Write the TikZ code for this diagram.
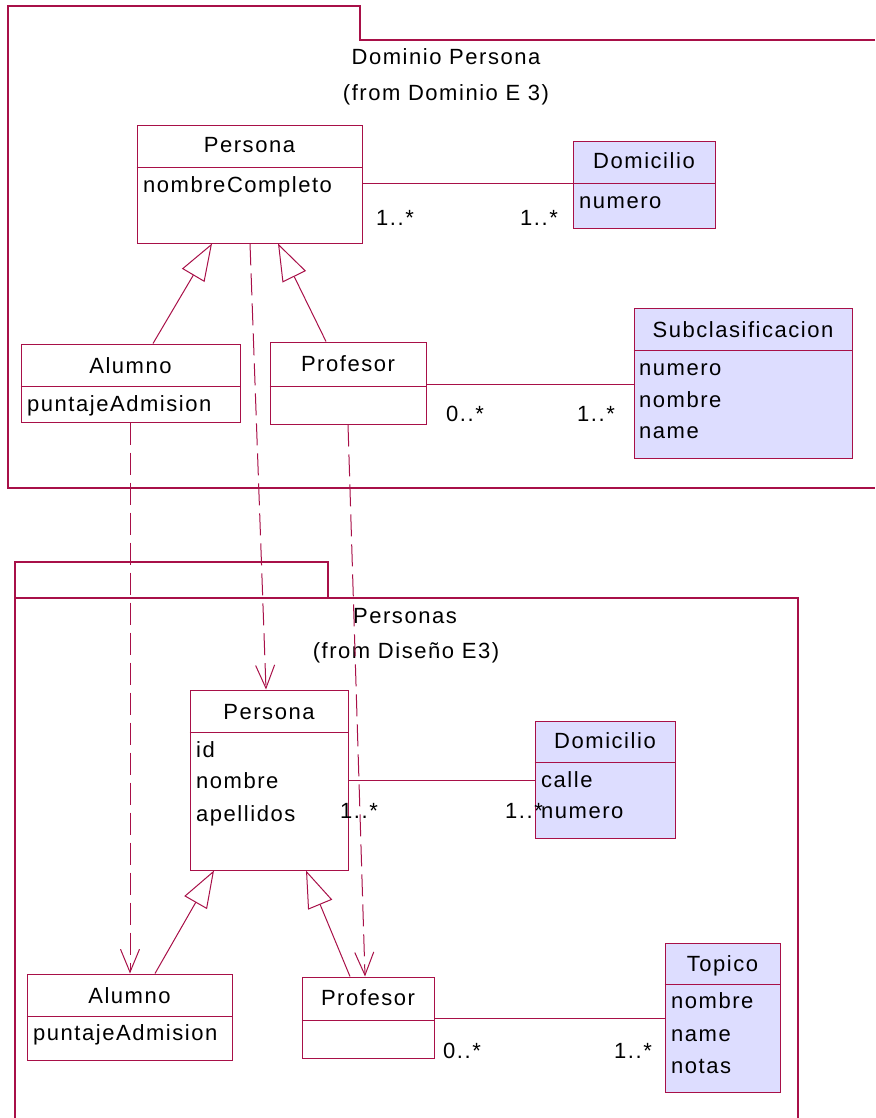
\documentclass[tikz,border=0pt]{standalone}
\usepackage{fontspec}
\setmainfont{Liberation Sans}[LetterSpace=7]
\usetikzlibrary{arrows.meta}
\definecolor{rose}{RGB}{168,16,72}
\definecolor{lav}{RGB}{221,221,255}
\tikzset{
  ln/.style={draw=rose, line width=1pt},
  pkg/.style={draw=rose, line width=1.2pt},
  cls/.style={rectangle, draw=rose, line width=1pt, fill=white, inner sep=0pt},
  clsb/.style={cls, fill=lav},
  ttl/.style={inner sep=0pt, anchor=base, text=black},
  attr/.style={inner sep=0pt, anchor=base west, text=black},
  gen/.style={ln, -{Triangle[open, length=37pt, width=26pt]}},
  dep/.style={ln, dash pattern=on 22pt off 8pt, -{Straight Barb[length=23pt, width=19pt]}},
}
\begin{document}
\begin{tikzpicture}[x=1pt, y=-1pt, font=\fontsize{22}{26}\selectfont]
\useasboundingbox (0,0) rectangle (875,1118);

% package: Dominio Persona
\draw[pkg] (875,40) -- (360,40) -- (360,6) -- (8,6) -- (8,488) -- (875,488);
\node[ttl] (pkgA) at (446,65) {Dominio Persona};
\node[ttl] (pkgAf) at (446,101) {(from Dominio E 3)};

% package: Personas
\draw[pkg] (15,1118) -- (15,562) -- (328,562) -- (328,598);
\draw[pkg] (15,598) -- (798,598) -- (798,1118);
\node[ttl] (pkgB) at (405,623) {Personas};
\node[ttl] (pkgBf) at (406,658) {(from Diseño E3)};

% class boxes, domain package
\node[cls, minimum width=225pt, minimum height=117pt] (p1) at (249.5,184.5) {};
\node[clsb, minimum width=142pt, minimum height=86pt] (d1) at (644,185) {};
\node[cls, minimum width=219pt, minimum height=78pt] (a1) at (130.5,383) {};
\node[cls, minimum width=156pt, minimum height=82pt] (f1) at (348,383) {};
\node[clsb, minimum width=218pt, minimum height=150pt] (s1) at (743,383) {};

% class boxes, design package
\node[cls, minimum width=158pt, minimum height=180pt] (p2) at (269,780) {};
\node[clsb, minimum width=140pt, minimum height=117pt] (d2) at (605,779.5) {};
\node[cls, minimum width=205pt, minimum height=86pt] (a2) at (129.5,1017) {};
\node[cls, minimum width=132pt, minimum height=81pt] (f2) at (368,1017.5) {};
\node[clsb, minimum width=115pt, minimum height=149pt] (t2) at (722.5,1017.5) {};

% compartment dividers
\draw[ln] (p1.west |- 0,168) -- (p1.east |- 0,168);
\draw[ln] (d1.west |- 0,184) -- (d1.east |- 0,184);
\draw[ln] (a1.west |- 0,386) -- (a1.east |- 0,386);
\draw[ln] (f1.west |- 0,386) -- (f1.east |- 0,386);
\draw[ln] (s1.west |- 0,350) -- (s1.east |- 0,350);
\draw[ln] (p2.west |- 0,732) -- (p2.east |- 0,732);
\draw[ln] (d2.west |- 0,762) -- (d2.east |- 0,762);
\draw[ln] (a2.west |- 0,1016) -- (a2.east |- 0,1016);
\draw[ln] (f2.west |- 0,1020) -- (f2.east |- 0,1020);
\draw[ln] (t2.west |- 0,984) -- (t2.east |- 0,984);

% class names
\node[ttl] (p1n) at (249.5,153) {Persona};
\node[ttl] (d1n) at (644,168) {Domicilio};
\node[ttl] (a1n) at (130.5,373) {Alumno};
\node[ttl] (f1n) at (348,371) {Profesor};
\node[ttl] (s1n) at (743,337) {Subclasificacion};
\node[ttl] (p2n) at (269,719) {Persona};
\node[ttl] (d2n) at (605,748) {Domicilio};
\node[ttl] (a2n) at (129.5,1003) {Alumno};
\node[ttl] (f2n) at (368,1005) {Profesor};
\node[ttl] (t2n) at (722.5,971) {Topico};

% attributes
\node[attr] (p1a) at (143,193) {nombreCompleto};
\node[attr] (d1a) at (579,208) {numero};
\node[attr] (a1a) at (27,411) {puntajeAdmision};
\node[attr] (s1a) at (639,375) {numero};
\node[attr] (s1b) at (639,407) {nombre};
\node[attr] (s1c) at (639,438) {name};
\node[attr] (p2a) at (196,757) {id};
\node[attr] (p2b) at (196,788) {nombre};
\node[attr] (p2c) at (196,821) {apellidos};
\node[attr] (d2a) at (541,787) {calle};
\node[attr] (d2b) at (541,818) {numero};
\node[attr] (a2a) at (33,1040) {puntajeAdmision};
\node[attr] (t2a) at (671,1008) {nombre};
\node[attr] (t2b) at (671,1041) {name};
\node[attr] (t2c) at (671,1073) {notas};

% associations
\draw[ln] (p1.east |- 0,184) -- (d1.west |- 0,184);
\draw[ln] (f1.east |- 0,384) -- (s1.west |- 0,384);
\draw[ln] (p2.east |- 0,780) -- (d2.west |- 0,780);
\draw[ln] (f2.east |- 0,1018) -- (t2.west |- 0,1018);

% multiplicities
\node[attr] (m1) at (376,225) {1..*};
\node[attr] (m2) at (520,225) {1..*};
\node[attr] (m3) at (446,421) {0..*};
\node[attr] (m4) at (577,421) {1..*};
\node[attr] (m5) at (340,818) {1..*};
\node[attr] (m6) at (505,818) {1..*};
\node[attr] (m7) at (443,1058) {0..*};
\node[attr] (m8) at (614,1058) {1..*};

% generalizations
\draw[gen] (a1.north -| 153,0) -- (p1.south -| 212,0);
\draw[gen] (f1.north -| 326,0) -- (p1.south -| 278,0);
\draw[gen] (a2.north -| 155,0) -- (p2.south -| 214,0);
\draw[gen] (f2.north -| 350,0) -- (p2.south -| 306,0);

% dependencies between packages
\draw[dep] (p1.south -| 250,0) -- (p2.north -| 266,0);
\draw[dep] (a1.south -| 130,0) -- (a2.north -| 130,0);
\draw[dep] (f1.south -| 348,0) -- (f2.north -| 365,0);
\end{tikzpicture}
\end{document}
